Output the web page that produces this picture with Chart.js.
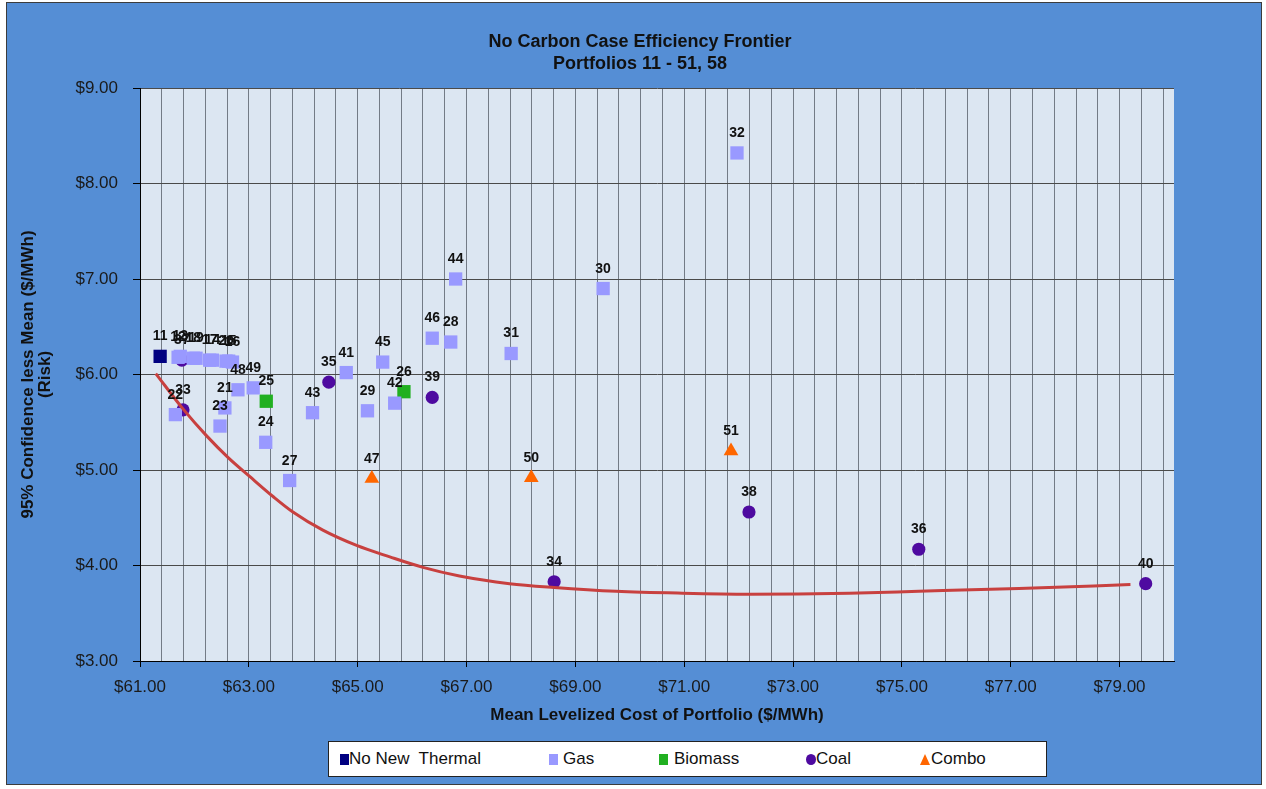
<!DOCTYPE html>
<html>
<head>
<meta charset="utf-8">
<script src="https://cdn.jsdelivr.net/npm/chart.js@4/dist/chart.umd.min.js"></script>
<style>
  body { margin: 0; background: #fff; width: 1266px; height: 789px; overflow: hidden; font-family: "Liberation Sans", Arial, sans-serif; }
  #frame { position: absolute; left: 6px; top: 2px; width: 1254px; height: 781px; background: #558ED5; border: 1px solid #3c3c3c; }
  #chart { position: absolute; left: 0; top: 0; }
  #title { position: absolute; left: 0; width: 1280px; top: 30px; text-align: center; font-weight: bold; font-size: 18px; line-height: 22px; color: #111; }
  #legend { position: absolute; left: 328px; top: 741px; width: 717px; height: 34px; background: #fff; border: 1px solid #222; }
  #legend span { position: absolute; }
  .txt { top: 0; line-height: 34px; font-size: 17px; color: #111; white-space: pre; }
</style>
</head>
<body>
<div id="frame"></div>
<canvas id="chart" width="1266" height="789"></canvas>
<div id="title">No Carbon Case Efficiency Frontier<br>Portfolios 11 - 51, 58</div>
<div id="legend">
  <span style="left:11px; top:12px; width:9px; height:11px; background:#000080"></span>
  <span class="txt" style="left:20px">No New  Thermal</span>
  <span style="left:220px; top:12px; width:9px; height:11px; background:#9999FF"></span>
  <span class="txt" style="left:234px">Gas</span>
  <span style="left:330px; top:12px; width:9px; height:11px; background:#21B021"></span>
  <span class="txt" style="left:345px">Biomass</span>
  <span style="left:477px; top:12px; width:10px; height:11px; border-radius:50%; background:#4E0AA0"></span>
  <span class="txt" style="left:487px">Coal</span>
  <span style="left:591px; top:12px; width:0; height:0; border-left:5px solid transparent; border-right:5px solid transparent; border-bottom:11px solid #FF6600"></span>
  <span class="txt" style="left:602px">Combo</span>
</div>
<script>
// portfolio points: x = mean levelized cost, y = risk
const noNewLabels = ['11'];
const noNewX = [61.37];
const noNewY = [6.19];

const gasLabels = ['12', '13', '18', '19', '17', '14', '20', '15', '16', '21', '22', '23', '24', '27',
                   '28', '29', '30', '31', '32', '41', '42', '43', '44', '45', '46', '48', '49'];
const gasX = [61.70, 61.74, 61.98, 62.03, 62.28, 62.33, 62.58, 62.63, 62.70, 62.56, 61.65, 62.47, 63.31, 63.75,
              66.71, 65.18, 69.51, 67.82, 71.97, 64.79, 65.68, 64.17, 66.80, 65.46, 66.37, 62.80, 63.08];
const gasY = [6.18, 6.19, 6.17, 6.17, 6.15, 6.15, 6.14, 6.14, 6.13, 5.65, 5.58, 5.46, 5.29, 4.89,
              6.34, 5.62, 6.90, 6.22, 8.32, 6.02, 5.70, 5.60, 7.00, 6.13, 6.38, 5.84, 5.86];

const bioLabels = ['25', '26'];
const bioX = [63.32, 65.85];
const bioY = [5.72, 5.82];

const coalLabels = ['33', '34', '35', '36', '37', '38', '39', '40'];
const coalX = [61.79, 68.61, 64.47, 75.31, 61.77, 72.19, 66.37, 79.48];
const coalY = [5.63, 3.83, 5.92, 4.17, 6.15, 4.56, 5.76, 3.81];

const comboLabels = ['47', '50', '51'];
const comboX = [65.26, 68.19, 71.86];
const comboY = [4.91, 4.92, 5.20];

// efficiency frontier trend line
const frontierX = [61.29, 61.79, 62.22, 62.62, 63.02, 63.45, 63.81, 64.36, 64.98, 65.59, 66.20, 66.87,
                   67.79, 68.61, 69.75, 70.97, 72.19, 74.03, 75.31, 77.15, 79.20];
const frontierY = [6.01, 5.64, 5.36, 5.13, 4.93, 4.72, 4.56, 4.37, 4.21, 4.09, 3.98, 3.89,
                   3.81, 3.77, 3.73, 3.71, 3.70, 3.71, 3.73, 3.76, 3.80];

const xMajorTicks = [61, 63, 65, 67, 69, 71, 73, 75, 77, 79];
const xGridStep = 0.4;
const yTicks = [3, 4, 5, 6, 7, 8, 9];

const FONT = '"Liberation Sans", Arial, sans-serif';

function pts(xs, ys) {
    return xs.map((x, i) => ({ x: x, y: ys[i] }));
}

function isMajor(v) {
    return xMajorTicks.some(m => Math.abs(m - v) < 1e-6);
}

// light plot area background
const plotBg = {
    id: 'plotBg',
    beforeDraw(chart) {
        const a = chart.chartArea;
        chart.ctx.save();
        chart.ctx.fillStyle = '#DCE6F2';
        chart.ctx.fillRect(a.left, a.top, a.right - a.left, a.bottom - a.top);
        chart.ctx.restore();
    }
};

// portfolio number above each marker
const pointLabels = {
    id: 'pointLabels',
    afterDatasetsDraw(chart) {
        const ctx = chart.ctx;
        ctx.save();
        ctx.font = 'bold 14px ' + FONT;
        ctx.fillStyle = '#111';
        ctx.textAlign = 'center';
        ctx.textBaseline = 'alphabetic';
        chart.data.datasets.forEach((ds, i) => {
            if (!ds.pointLabels) return;
            chart.getDatasetMeta(i).data.forEach((pt, j) => {
                ctx.fillText(ds.pointLabels[j], pt.x, pt.y - 16);
            });
        });
        ctx.restore();
    }
};

new Chart(document.getElementById('chart'), {
    type: 'scatter',
    data: {
        datasets: [
            {
                label: 'Frontier', type: 'line', data: pts(frontierX, frontierY), order: 0,
                borderColor: '#C8403F', borderWidth: 3, pointRadius: 0, fill: false,
                cubicInterpolationMode: 'monotone'
            },
            {
                label: 'No New Thermal', data: pts(noNewX, noNewY), pointLabels: noNewLabels, order: 1,
                pointStyle: 'rect', pointRadius: 9.4, backgroundColor: '#000080', borderWidth: 0
            },
            {
                label: 'Gas', data: pts(gasX, gasY), pointLabels: gasLabels, order: 1,
                pointStyle: 'rect', pointRadius: 9.4, backgroundColor: '#9999FF', borderWidth: 0
            },
            {
                label: 'Biomass', data: pts(bioX, bioY), pointLabels: bioLabels, order: 1,
                pointStyle: 'rect', pointRadius: 9.4, backgroundColor: '#21B021', borderWidth: 0
            },
            {
                label: 'Coal', data: pts(coalX, coalY), pointLabels: coalLabels, order: 1,
                pointStyle: 'circle', pointRadius: 6.6, backgroundColor: '#4E0AA0', borderWidth: 0
            },
            {
                label: 'Combo', data: pts(comboX, comboY), pointLabels: comboLabels, order: 1,
                pointStyle: 'triangle', pointRadius: 8.5, backgroundColor: '#FF6600', borderWidth: 0
            }
        ]
    },
    options: {
        responsive: false,
        animation: false,
        devicePixelRatio: 1,
        layout: { padding: { top: 88, right: 92, bottom: 0, left: 0 } },
        plugins: {
            legend: { display: false },
            title: { display: false },
            tooltip: { enabled: false }
        },
        scales: {
            x: {
                type: 'linear', min: 61, max: 80,
                afterBuildTicks: s => {
                    const t = [];
                    for (let v = 61; v <= 80 + 1e-6; v = Math.round((v + xGridStep) * 10) / 10) t.push({ value: v });
                    s.ticks = t;
                },
                afterFit: s => { s.height = 128; },
                ticks: {
                    autoSkip: false, maxRotation: 0, minRotation: 0, padding: 10,
                    color: '#1a1a1a', font: { size: 17, family: FONT },
                    callback: v => isMajor(v) ? '$' + v.toFixed(2) : ''
                },
                grid: {
                    color: '#737b86', lineWidth: 1, tickLength: 6,
                    tickColor: c => (c.tick && isMajor(c.tick.value)) ? '#000' : 'rgba(0,0,0,0)'
                },
                border: { color: '#000', width: 1 },
                title: {
                    display: true, text: 'Mean Levelized Cost of Portfolio ($/MWh)', color: '#111',
                    font: { size: 17, weight: 'bold', family: FONT }, padding: { top: 0, bottom: 63 }
                }
            },
            y: {
                min: 3, max: 9,
                afterBuildTicks: s => { s.ticks = yTicks.map(v => ({ value: v })); },
                afterFit: s => { s.width = 140; },
                ticks: {
                    padding: 15, color: '#1a1a1a', font: { size: 17, family: FONT },
                    callback: v => '$' + v.toFixed(2)
                },
                grid: { color: '#4a4a4a', lineWidth: 1, tickLength: 7, tickColor: '#000' },
                border: { color: '#000', width: 1 },
                title: {
                    display: true, text: ['95% Confidence less Mean ($/MWh)', '(Risk)'], color: '#111',
                    font: { size: 17, weight: 'bold', family: FONT, lineHeight: 1 }, padding: { top: 20, bottom: 0 }
                }
            }
        }
    },
    plugins: [plotBg, pointLabels]
});
</script>
</body>
</html>
